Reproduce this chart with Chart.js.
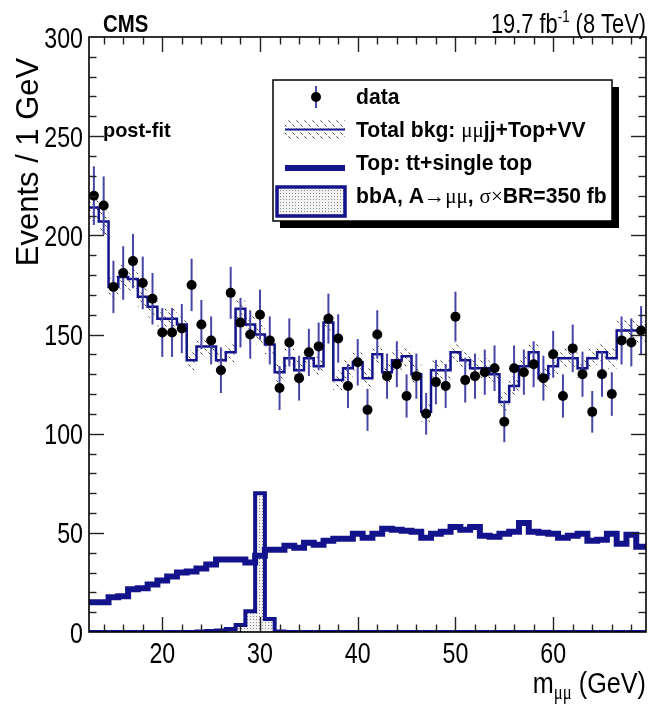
<!DOCTYPE html>
<html><head><meta charset="utf-8">
<script src="https://cdn.jsdelivr.net/npm/chart.js@4.4.1/dist/chart.umd.min.js"></script>
<style>html,body{margin:0;padding:0;background:#fff}canvas{display:block}</style>
</head><body>
<canvas id="c" width="651" height="707"></canvas>
<script>
// ---- data (bin centres in GeV, 1 GeV bins) ----
const massBins = [13,14,15,16,17,18,19,20,21,22,23,24,25,26,27,28,29,30,31,32,33,34,35,36,37,38,39,40,41,42,43,44,45,46,47,48,49,50,51,52,53,54,55,56,57,58,59,60,61,62,63,64,65,66,67,68,69];
const dataEvents = [220,215,174,181,187,176,168,151,151,153,175,155,147,132,171,156,150,160,147,123,146,128,141,144,158,148,124,136,112,150,129,135,119,129,110,126,124,159,127,129,131,133,106,133,131,135,128,140,119,143,130,111,130,120,147,146,152];
const dataErr = [14.8,14.7,13.2,13.5,13.7,13.3,13.0,12.3,12.3,12.4,13.2,12.4,12.1,11.5,13.1,12.5,12.2,12.6,12.1,11.1,12.1,11.3,11.9,12.0,12.6,12.2,11.1,11.7,10.6,12.2,11.4,11.6,10.9,11.4,10.5,11.2,11.1,12.6,11.3,11.4,11.4,11.5,10.3,11.5,11.4,11.6,11.3,11.8,10.9,12.0,11.4,10.5,11.4,11.0,12.1,12.1,12.3];
const totalBkg = [214,207,174,179,178,169,164,158,158,155,137,144,144,137,141,163,155,150,145,131,138,132,138,134,156,127,133,136,128,140,131,137,139,130,111,132,132,141,137,133,133,130,116,124,134,141,128,134,138,138,133,138,141,138,152,152,152];
const totalBkgErr = [7,7,6,6,6,5.5,5.5,5,5,5,5,5,5,5,5,5,5,5,5,5,5,5,5,5,5,5,5,5,5,5,5,5,5,5,5,5,5,5,5,5,5,5,5,5,5,5,5,5,5,5,5,5,5,5.5,5.5,6,6];
const topBkg = [15,15,17.5,18,21.5,22,24,26,28,30,30.5,32,34,36.5,36.5,36.5,35,38.5,41.5,41.5,43.5,42.5,45,44,46,47,47,49.5,47.5,49.5,52,51.5,51,50.5,47.5,49.5,50.5,53,51.5,53,48.5,48,49.5,50.5,55,50.5,50,49.5,47.5,48.5,49.5,46,46.5,49.5,44.5,49,43];
const signal = [0,0,0,0,0,0,0,0,0,0,0,0.3,0.5,0.8,1.5,3.5,10.5,70,6.5,0.3,0,0,0,0,0,0,0,0,0,0,0,0,0,0,0,0,0,0,0,0,0,0,0,0,0,0,0,0,0,0,0,0,0,0,0,0,0];
const xTicks = [20,30,40,50,60];
const yTicks = [0,50,100,150,200,250,300];

// ---- helpers ----
const NAVY = '#13138c';
const SANS = "'Liberation Sans', Arial, sans-serif";
const SERIF = "'Liberation Serif', 'DejaVu Serif', serif";

function histPoints(vals){
  const pts=[];
  massBins.forEach((m,i)=>{pts.push({x:m-0.5,y:vals[i]});pts.push({x:m+0.5,y:vals[i]});});
  return pts;
}
function makeHatch(){
  const c=document.createElement('canvas');c.width=8;c.height=8;
  const g=c.getContext('2d');
  g.strokeStyle='#333';g.lineWidth=1;
  g.beginPath();g.moveTo(0.5,0.5);g.lineTo(2.5,2.5);g.moveTo(4.5,4.5);g.lineTo(6.5,6.5);g.stroke();
  return g.createPattern(c,'repeat');
}
function makeDots(){
  const c=document.createElement('canvas');c.width=3;c.height=3;
  const g=c.getContext('2d');
  g.fillStyle='#f2f2f2';g.fillRect(0,0,3,3);
  g.fillStyle='#8a8a8a';g.fillRect(1,1,1,1);
  return g.createPattern(c,'repeat');
}
const hatch = makeHatch();
const dots = makeDots();

function rich(ctx, parts, x, y, align, sx){
  ctx.save();
  let w=0;
  parts.forEach(p=>{ctx.font=p.f;p.w=ctx.measureText(p.t).width;w+=p.w;});
  const start = align==='right'? x-w*sx : align==='center'? x-w*sx/2 : x;
  ctx.translate(start,y);ctx.scale(sx,1);
  ctx.textAlign='left';ctx.textBaseline='alphabetic';ctx.fillStyle='#000';
  let cx=0;
  parts.forEach(p=>{ctx.font=p.f;ctx.fillText(p.t,cx,p.dy||0);cx+=p.w;});
  ctx.restore();
}

const DATA_IDX = 0;
const errorBars = {
  id:'errorBars',
  beforeDatasetDraw(chart,args){
    if(args.index!==DATA_IDX) return;
    const {x,y}=chart.scales, ctx=chart.ctx;
    ctx.save();ctx.strokeStyle='#4646a6';ctx.lineWidth=2;
    massBins.forEach((m,i)=>{
      const p=x.getPixelForValue(m);
      ctx.beginPath();
      ctx.moveTo(p,y.getPixelForValue(dataEvents[i]-dataErr[i]));
      ctx.lineTo(p,y.getPixelForValue(dataEvents[i]+dataErr[i]));
      ctx.stroke();
    });
    ctx.restore();
  }
};

const frame = {
  id:'frame',
  afterDatasetsDraw(chart){
    const {ctx,chartArea:a}=chart, {x,y}=chart.scales;
    ctx.save();
    ctx.strokeStyle='#222';ctx.lineWidth=1.4;
    const ln=(x1,y1,x2,y2)=>{ctx.beginPath();ctx.moveTo(x1,y1);ctx.lineTo(x2,y2);ctx.stroke();};
    for(let v=14;v<=68;v+=2){
      const p=Math.round(x.getPixelForValue(v))+0.5, L=(v%10===0)?15:7.5;
      ln(p,a.bottom,p,a.bottom-L);ln(p,a.top,p,a.top+L);
    }
    for(let v=10;v<=290;v+=10){
      const p=Math.round(y.getPixelForValue(v))+0.5, L=(v%50===0)?15:7.5;
      ln(a.left,p,a.left+L,p);ln(a.right,p,a.right-L,p);
    }
    ctx.strokeStyle='#000';ctx.lineWidth=1.6;
    ctx.strokeRect(a.left,a.top,a.right-a.left,a.bottom-a.top);
    ctx.restore();
    // tick labels from the library's scale ticks (narrow ROOT-like digits)
    const TF='29px '+SANS;
    y.ticks.forEach(t=>{
      rich(ctx,[{t:String(t.value),f:TF}],83,y.getPixelForValue(t.value)+10.5,'right',0.8);
    });
    x.ticks.forEach(t=>{
      rich(ctx,[{t:String(t.value),f:TF}],x.getPixelForValue(t.value),663,'center',0.8);
    });
  }
};

const annot = {
  id:'annot',
  afterDraw(chart){
    const ctx=chart.ctx;
    // header
    rich(ctx,[{t:'CMS',f:'bold 24px '+SANS}],103,32,'left',0.85);
    rich(ctx,[{t:'19.7 fb',f:'28px '+SANS},{t:'-1',f:'17px '+SANS,dy:-11},{t:' (8 TeV)',f:'28px '+SANS}],646,33,'right',0.78);
    rich(ctx,[{t:'post-fit',f:'bold 21px '+SANS}],103,137,'left',0.95);
    // axis titles
    rich(ctx,[{t:'m',f:'30px '+SANS},{t:'\u03bc\u03bc',f:'20px '+SERIF,dy:6},{t:' (GeV)',f:'30px '+SANS}],646,693,'right',0.84);
    ctx.save();
    ctx.translate(38,162);ctx.rotate(-Math.PI/2);
    ctx.font='31px '+SANS;ctx.textAlign='center';ctx.textBaseline='alphabetic';ctx.fillStyle='#000';
    ctx.fillText('Events / 1 GeV',0,0);
    ctx.restore();
    // legend box
    const L=273,T=80,R=612,B=221;
    ctx.save();
    ctx.fillStyle='#000';ctx.fillRect(L+7,T+7,R-L,B-T);
    ctx.fillStyle='#fff';ctx.fillRect(L,T,R-L,B-T);
    ctx.strokeStyle='#000';ctx.lineWidth=1.5;ctx.strokeRect(L,T,R-L,B-T);
    // data marker
    ctx.strokeStyle='#4646a6';ctx.lineWidth=2;
    ctx.beginPath();ctx.moveTo(316,86);ctx.lineTo(316,108);ctx.stroke();
    ctx.fillStyle='#000';ctx.beginPath();ctx.arc(316,97,5,0,2*Math.PI);ctx.fill();
    // total bkg
    ctx.fillStyle=hatch;ctx.fillRect(285,120,60,19);
    ctx.strokeStyle=NAVY;ctx.lineWidth=2;
    ctx.beginPath();ctx.moveTo(285,129.5);ctx.lineTo(345,129.5);ctx.stroke();
    // top
    ctx.lineWidth=6;
    ctx.beginPath();ctx.moveTo(285,168);ctx.lineTo(345,168);ctx.stroke();
    // signal
    ctx.fillStyle=dots;ctx.fillRect(277,187,68,29);
    ctx.lineWidth=3.5;ctx.strokeRect(277,187,68,29);
    ctx.restore();
    const BF='bold 22px '+SANS, SF='22px '+SERIF;
    rich(ctx,[{t:'data',f:BF}],356,104,'left',0.96);
    rich(ctx,[{t:'Total bkg: ',f:BF},{t:'\u03bc\u03bc',f:SF},{t:'jj+Top+VV',f:BF}],356,137,'left',0.96);
    rich(ctx,[{t:'Top: tt+single top',f:BF}],356,170,'left',0.96);
    rich(ctx,[{t:'bbA, A',f:BF},{t:'\u2192\u03bc\u03bc',f:SF},{t:', ',f:BF},{t:'\u03c3\u00d7',f:SF},{t:'BR=350 fb',f:BF}],356,203,'left',0.96);
  }
};

const bkgUp = totalBkg.map((v,i)=>v+totalBkgErr[i]);
const bkgDn = totalBkg.map((v,i)=>v-totalBkgErr[i]);

new Chart(document.getElementById('c'),{
  type:'line',
  data:{datasets:[
    {label:'data',data:massBins.map((m,i)=>({x:m,y:dataEvents[i]})),showLine:false,
     pointRadius:5,pointHoverRadius:5,pointBackgroundColor:'#000',pointBorderWidth:0,order:0},
    {label:'Total bkg',data:histPoints(totalBkg),borderColor:NAVY,borderWidth:2.5,pointRadius:0,fill:false,tension:0,order:1},
    {label:'bkg down',data:histPoints(bkgDn),borderWidth:0,borderColor:'rgba(0,0,0,0)',pointRadius:0,fill:false,order:3},
    {label:'bkg up',data:histPoints(bkgUp),borderWidth:0,borderColor:'rgba(0,0,0,0)',pointRadius:0,fill:2,backgroundColor:hatch,order:2},
    {label:'Top',data:histPoints(topBkg),borderColor:NAVY,borderWidth:6,pointRadius:0,fill:false,order:4},
    {label:'signal',data:histPoints(signal),borderColor:NAVY,borderWidth:4,pointRadius:0,fill:'origin',backgroundColor:dots,order:5}
  ]},
  options:{
    responsive:false,animation:false,devicePixelRatio:1,
    layout:{padding:{left:0,right:5,top:37,bottom:0}},
    plugins:{legend:{display:false},tooltip:{enabled:false}},
    scales:{
      x:{type:'linear',min:12.5,max:69.5,
         grid:{display:false,drawTicks:false},border:{display:false},
         ticks:{display:false},
         afterBuildTicks(s){s.ticks=xTicks.map(v=>({value:v}));},
         afterFit(s){s.height=75;}},
      y:{type:'linear',min:0,max:300,
         grid:{display:false,drawTicks:false},border:{display:false},
         ticks:{display:false},
         afterBuildTicks(s){s.ticks=yTicks.map(v=>({value:v}));},
         afterFit(s){s.width=89;}}
    }
  },
  plugins:[errorBars,frame,annot]
});
</script>
</body></html>
